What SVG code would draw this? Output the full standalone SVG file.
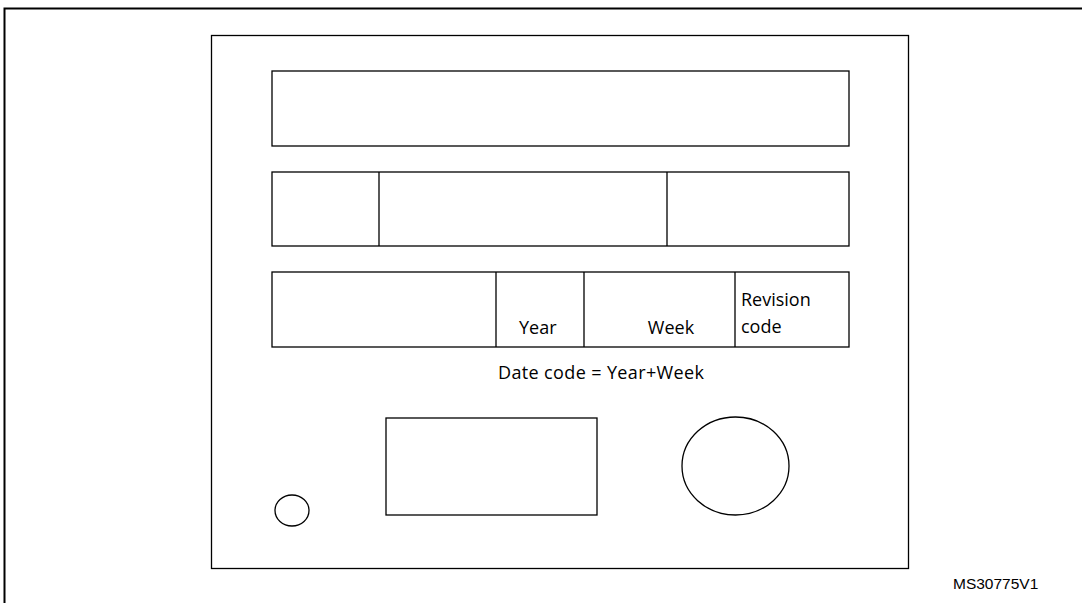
<svg xmlns="http://www.w3.org/2000/svg" width="1082" height="603" viewBox="0 0 1082 603">
<style>
.ln{fill:none;stroke:#000;stroke-width:1.3}
.t{font-family:"Open Sans","Liberation Sans",sans-serif;font-size:18px;fill:#000}
.id{font-family:"Liberation Sans",Arial,sans-serif;font-size:15.5px;fill:#000}
</style>
<rect width="1082" height="603" fill="#fff"/>
<path d="M4.5 603 V8.5 H1082" fill="none" stroke="#000" stroke-width="2"/>
<g id="package"><rect class="ln" x="211.5" y="35.5" width="697" height="533"/></g>
<g id="row1"><rect class="ln" x="272" y="71" width="577" height="75"/></g>
<g id="row2"><rect class="ln" x="272" y="172" width="577" height="74"/><path class="ln" d="M379 172 V246 M667 172 V246"/></g>
<g id="row3"><rect class="ln" x="272" y="272" width="577" height="75"/><path class="ln" d="M496 272 V347 M584 272 V347 M735 272 V347"/>
<text class="t" x="519" y="334">Year</text>
<text class="t" x="671" y="334" text-anchor="middle">Week</text>
<text class="t" x="741" y="306">Revision</text>
<text class="t" x="741" y="333">code</text>
</g>
<g id="datecode"><text class="t" x="601" y="379" text-anchor="middle" textLength="206">Date code = Year+Week</text></g>
<g id="rect-mark"><rect class="ln" x="386" y="418" width="211" height="97"/></g>
<g id="big-dot"><ellipse class="ln" cx="735.5" cy="466" rx="53.5" ry="49"/></g>
<g id="pin1"><ellipse class="ln" cx="292" cy="510.5" rx="17" ry="15.5"/></g>
<text class="id" x="953" y="589">MS30775V1</text>
</svg>
